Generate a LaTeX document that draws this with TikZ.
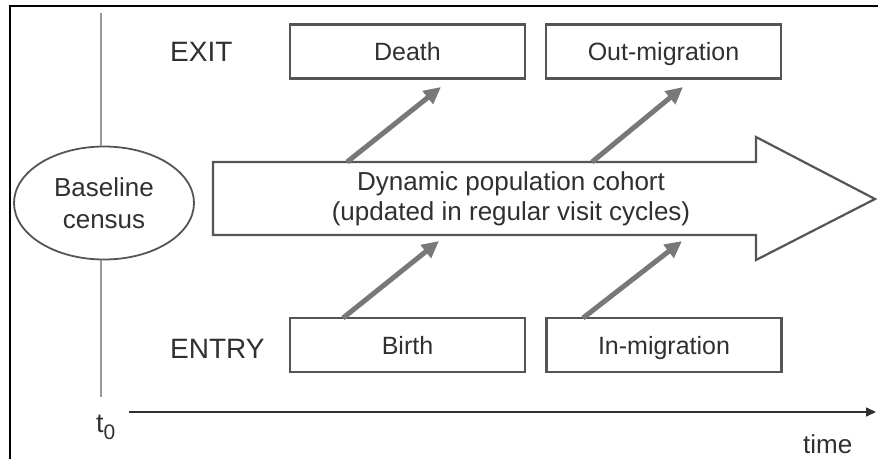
\documentclass[tikz,border=0pt]{standalone}
\usepackage{fontspec}
\setmainfont{Liberation Sans}
\usetikzlibrary{arrows.meta,shapes.geometric}
\definecolor{boxc}{HTML}{555555}
\definecolor{txt}{HTML}{303030}
\definecolor{arr}{HTML}{787878}
\definecolor{vline}{HTML}{9A9A9A}
\tikzset{
  boxs/.style={draw=boxc, line width=2.2pt, minimum width=235pt, minimum height=54pt, inner sep=0pt,
    text=txt, font=\fontsize{25}{25}\selectfont, text height=18pt, text depth=0pt},
  lbl/.style={text=txt, inner sep=0pt, font=\fontsize{28}{28}\selectfont},
  flow/.style={draw=arr, line width=5pt, -{Triangle[length=17pt,width=16pt]}},
}
\begin{document}
\begin{tikzpicture}[x=1pt,y=-1pt]
\useasboundingbox (0,0) rectangle (878,459);
% frame
\draw[line width=2pt,black] (10,459) -- (10,6) -- (878,6);
% baseline census
\node[ellipse, draw=boxc, line width=1.8pt, minimum width=180pt, minimum height=113pt, inner sep=0pt,
  align=center, text=txt, font=\fontsize{26}{32}\selectfont] (base) at (104,203) {Baseline\\census};
\coordinate (vtop) at (101,13);
\coordinate (vbot) at (101,397);
\draw[vline, line width=1.6pt] (vtop) -- (vtop |- base.north);
\draw[vline, line width=1.6pt] (vbot |- base.south) -- (vbot);
% main arrow
\draw[boxc, line width=2.2pt, fill=white] (213,162) -- (756,162) -- (756,137) -- (875,199) -- (756,260) -- (756,235) -- (213,235) -- cycle;
\node[align=center, text=txt, inner sep=0pt, font=\fontsize{26}{30.5}\selectfont] (cohort) at (511,199)
  {Dynamic population cohort\\(updated in regular visit cycles)};
% boxes
\node[boxs] (death) at (407.5,51.5) {Death};
\node[boxs] (out) at (663.5,51.5) {Out-migration};
\node[boxs] (birth) at (407.5,345) {Birth};
\node[boxs] (in) at (664,345) {In-migration};
% labels
\node[lbl, anchor=base west] (exit) at (170,61) {EXIT};
\node[lbl, anchor=base west] (entry) at (170,358) {ENTRY};
% flow arrows
\coordinate (a1s) at (347,162); \coordinate (a1e) at (441,87);
\coordinate (a2s) at (592,162); \coordinate (a2e) at (683,87);
\coordinate (a3s) at (343,318); \coordinate (a3e) at (439,241);
\coordinate (a4s) at (583,318); \coordinate (a4e) at (682,241);
\draw[flow] (a1s) -- (a1e);
\draw[flow] (a2s) -- (a2e);
\draw[flow] (a3s) -- (a3e);
\draw[flow] (a4s) -- (a4e);
% time axis
\coordinate (ts) at (129,412);
\coordinate (te) at (876,412);
\draw[txt, line width=1.6pt, -{Triangle[length=10pt,width=9pt]}] (ts) -- (te);
\node[anchor=base west, text=txt, inner sep=0pt, font=\fontsize{27}{27}\selectfont] (t0) at (96,432.5)
  {t\raisebox{-7pt}{\fontsize{21}{21}\selectfont 0}};
\node[anchor=base west, text=txt, inner sep=0pt, font=\fontsize{26}{26}\selectfont] (time) at (803,453) {time};
\end{tikzpicture}
\end{document}
